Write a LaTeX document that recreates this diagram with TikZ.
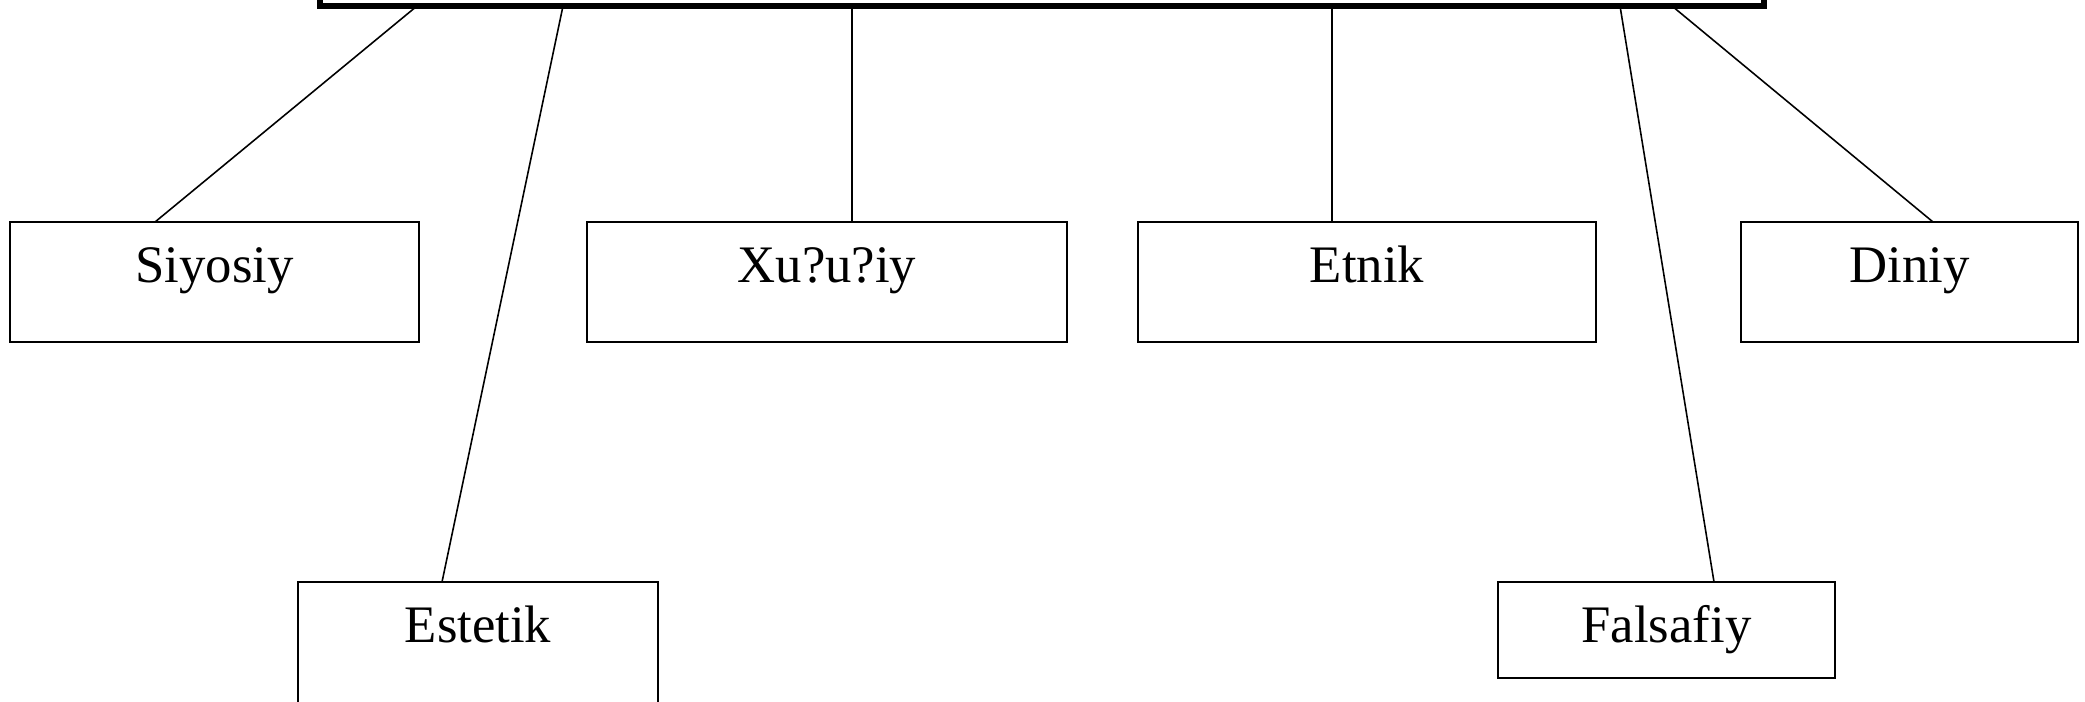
\documentclass[tikz,border=0pt]{standalone}
\usepackage{fontspec}
\setmainfont{Liberation Serif}
\usepackage{tikz}

\begin{document}
\begin{tikzpicture}[
		box/.style = {draw, line width = 0.5pt, inner sep = 0pt, outer sep = 0pt,
			text height = 0.60cm, text depth = 0.60cm, anchor = north,
			font = \fontsize{15}{18}\selectfont},
		link/.style = {line width = 0.45pt}
	]
					\useasboundingbox (0,0) rectangle (20.85,-7.01);

					% top box (its upper part lies above the page)
					\node [draw, line width = 1.7pt, inner sep = 0pt, outer sep = 0pt,
						minimum width = 14.44cm, minimum height = 2cm, anchor = south] (top) at (10.42,-0.06) {};

					\begin{scope}
						\node [box, minimum width = 4.09cm] (siyosiy) at (2.145,-2.22) {Siyosiy};
						\node [box, minimum width = 4.80cm] (xususiy) at (8.27,-2.22) {Xu?u?iy};
						\node [box, minimum width = 4.58cm] (etnik) at (13.67,-2.22) {Etnik};
						\node [box, minimum width = 3.37cm] (diniy) at (19.095,-2.22) {Diniy};
					\end{scope}

					\begin{scope}
						\node [box, minimum width = 3.60cm, text depth = 0.70cm] (estetik) at (4.78,-5.82) {Estetik};
						\node [box, minimum width = 3.37cm, text depth = 0.36cm] (falsafiy) at (16.665,-5.82) {Falsafiy};
					\end{scope}

					\begin{scope}[link]
						\draw ([xshift = 0.97cm]top.south west) -- ([xshift = -0.595cm]siyosiy.north);
						\draw ([xshift = 2.43cm]top.south west) -- ([xshift = -0.36cm]estetik.north);
						\draw ([xshift = 5.32cm]top.south west) -- ([xshift = 0.25cm]xususiy.north);
						\draw ([xshift = 10.12cm]top.south west) -- ([xshift = -0.35cm]etnik.north);
						\draw ([xshift = 13.00cm]top.south west) -- ([xshift = 0.475cm]falsafiy.north);
						\draw ([xshift = 13.52cm]top.south west) -- ([xshift = 0.235cm]diniy.north);
					\end{scope}
				\end{tikzpicture}
\end{document}
